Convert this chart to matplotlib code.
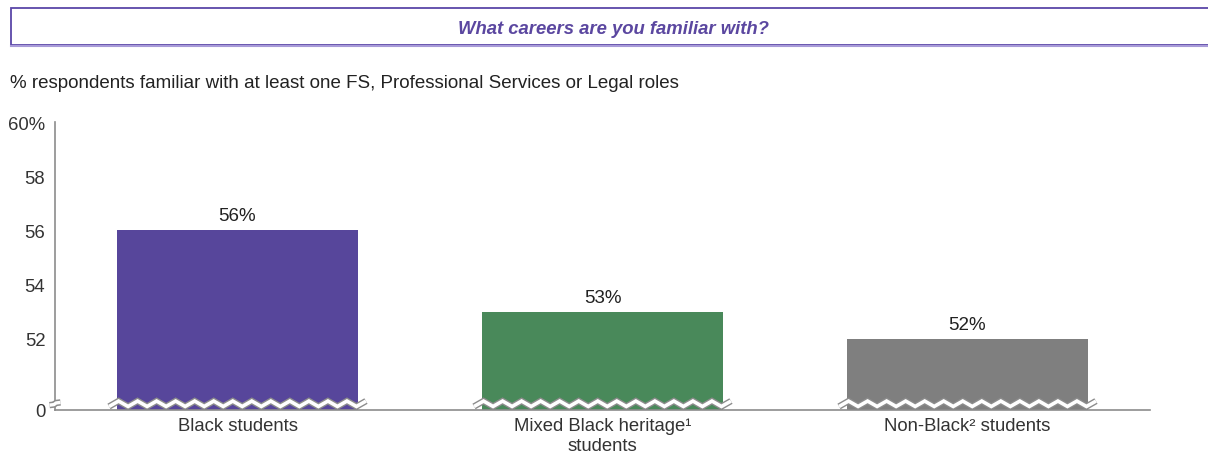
import numpy as np
import matplotlib.pyplot as plt
import matplotlib.patheffects as pe
from matplotlib.patches import Rectangle

plt.rcParams['font.family'] = ['Liberation Sans', 'DejaVu Sans']

# data
categories = ['Black students', 'Mixed Black heritage\u00b9\nstudents', 'Non-Black\u00b2 students']
values = [56, 53, 52]
colors = ['#57469B', '#49895A', '#7F7F7F']
ytick_vals = [52, 54, 56, 58, 60]

# the axis is broken below 50: zero sits a little under 50
zero_pos = 49.37
break_y = 49.6

fig = plt.figure(figsize=(12.08, 4.56), dpi=100)

# header box with the question
fig.patches.append(Rectangle((10.5 / 1208, 1 - 45.5 / 456), 1.0, 37 / 456,
                             transform=fig.transFigure, facecolor='white',
                             edgecolor='#5B47A8', linewidth=1.3))
fig.add_artist(plt.Line2D([10.5 / 1208, 1.0], [1 - 47 / 456, 1 - 47 / 456],
                          transform=fig.transFigure, color='#A89BD8', lw=1.5))
fig.text(613 / 1208, 1 - 29.5 / 456, 'What careers are you familiar with?',
         ha='center', va='center', fontsize=13.3, fontweight='bold',
         style='italic', color='#5B47A0')
fig.text(10 / 1208, 1 - 83.5 / 456,
         '% respondents familiar with at least one FS, Professional Services or Legal roles',
         ha='left', va='center', fontsize=13.5, color='#222222')

ax = fig.add_axes([55 / 1208, 1 - 411 / 456, 1095 / 1208, 288 / 456])
x = np.arange(len(values))
heights = [v - zero_pos for v in values]
ax.bar(x, heights, bottom=zero_pos, width=0.663, color=colors)

for xi, v in zip(x, values):
    ax.text(xi, v + 0.22, f'{v}%', ha='center', va='bottom', fontsize=13.5, color='#222222')

# zigzag breaks across bars and on the y axis
stroke = [pe.Stroke(linewidth=4.6, foreground='#8C8C8C', capstyle='butt'), pe.Normal()]
for xi in x:
    zx = np.linspace(xi - 0.352, xi + 0.352, 28)
    zy = break_y + np.where(np.arange(len(zx)) % 2 == 0, -0.1, 0.1)
    ax.plot(zx, zy, color='white', lw=2.6, solid_joinstyle='miter',
            solid_capstyle='butt', path_effects=stroke, clip_on=False, zorder=3)
zx = np.array([-0.515, -0.503, -0.497, -0.485])
zy = break_y + np.array([-0.05, -0.03, 0.03, 0.05])
ax.plot(zx, zy, color='white', lw=2.4, solid_capstyle='butt',
        path_effects=stroke, clip_on=False, zorder=3)

ax.set_xlim(-0.5, 2.5)
ax.set_ylim(zero_pos, 60)
ax.set_yticks([zero_pos] + ytick_vals)
ax.set_yticklabels(['0'] + [str(t) for t in ytick_vals[:-1]] + ['60%'])
ax.set_xticks(x)
ax.set_xticklabels(categories)
ax.tick_params(axis='both', length=0, labelsize=13.3, labelcolor='#333333')
ax.tick_params(axis='y', pad=7)
ax.tick_params(axis='x', pad=5)
for side in ['top', 'right']:
    ax.spines[side].set_visible(False)
for side in ['left', 'bottom']:
    ax.spines[side].set_color('#8C8C8C')
    ax.spines[side].set_linewidth(1.2)

fig.savefig('out.png', dpi=100)
